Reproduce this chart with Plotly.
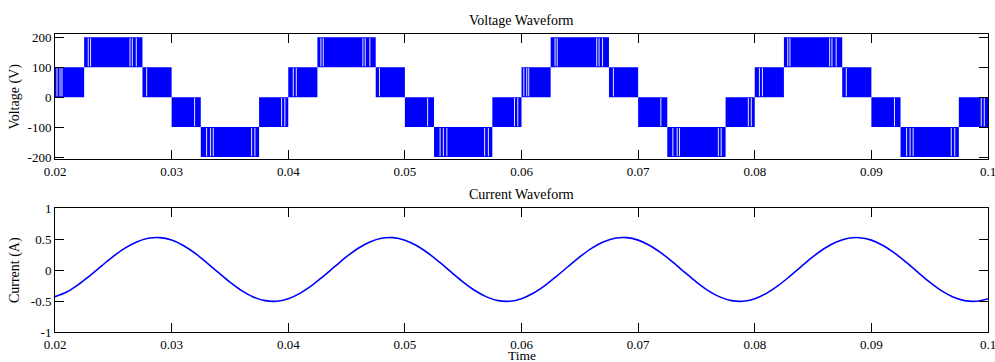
import plotly.graph_objects as go

# ---------------- Data ----------------
# Voltage: multilevel PWM, each band switches rapidly between a low and a high level
band_start = [0.0200, 0.0225, 0.0275, 0.0300, 0.0325, 0.0375,
              0.0400, 0.0425, 0.0475, 0.0500, 0.0525, 0.0575,
              0.0600, 0.0625, 0.0675, 0.0700, 0.0725, 0.0775,
              0.0800, 0.0825, 0.0875, 0.0900, 0.0925, 0.0975]
band_end = [0.0225, 0.0275, 0.0300, 0.0325, 0.0375, 0.0400,
            0.0425, 0.0475, 0.0500, 0.0525, 0.0575, 0.0600,
            0.0625, 0.0675, 0.0700, 0.0725, 0.0775, 0.0800,
            0.0825, 0.0875, 0.0900, 0.0925, 0.0975, 0.1000]
band_low = [0, 100, 0, -100, -200, -100,
            0, 100, 0, -100, -200, -100,
            0, 100, 0, -100, -200, -100,
            0, 100, 0, -100, -200, -100]
band_high = [100, 200, 100, 0, -100, 0,
             100, 200, 100, 0, -100, 0,
             100, 200, 100, 0, -100, 0,
             100, 200, 100, 0, -100, 0]

# Instants where the PWM stays at one level long enough to leave a visible gap
pwm_gap_times = [0.02017, 0.02043, 0.02060, 0.02285, 0.02305, 0.02643, 0.02663, 0.02697,
                 0.02786, 0.03197, 0.03300, 0.03334, 0.03357, 0.03686, 0.03714, 0.03943, 0.03971,
                 0.04043, 0.04069, 0.04280, 0.04300, 0.04640, 0.04660, 0.04700,
                 0.04782, 0.05195, 0.05302, 0.05330, 0.05360, 0.05684, 0.05716, 0.05940, 0.05968,
                 0.06020, 0.06045, 0.06062, 0.06288, 0.06306, 0.06645, 0.06665, 0.06695,
                 0.06788, 0.07195, 0.07298, 0.07335, 0.07355, 0.07688, 0.07712, 0.07945, 0.07970,
                 0.08040, 0.08066, 0.08283, 0.08302, 0.08642, 0.08662, 0.08698,
                 0.08785, 0.09198, 0.09302, 0.09332, 0.09358, 0.09685, 0.09715, 0.09942, 0.09968]

# Current: sampled every 1 ms from 20 ms to 100 ms
current_time_ms = [20, 21, 22, 23, 24, 25, 26, 27, 28, 29,
                   30, 31, 32, 33, 34, 35, 36, 37, 38, 39,
                   40, 41, 42, 43, 44, 45, 46, 47, 48, 49,
                   50, 51, 52, 53, 54, 55, 56, 57, 58, 59,
                   60, 61, 62, 63, 64, 65, 66, 67, 68, 69,
                   70, 71, 72, 73, 74, 75, 76, 77, 78, 79,
                   80, 81, 82, 83, 84, 85, 86, 87, 88, 89,
                   90, 91, 92, 93, 94, 95, 96, 97, 98, 99,
                   100]
current_vals = [-0.430, -0.355, -0.235, -0.088, 0.068, 0.222, 0.354, 0.453, 0.513, 0.524,
                0.484, 0.397, 0.272, 0.121, -0.039, -0.196, -0.332, -0.434, -0.494, -0.504,
                -0.463, -0.376, -0.252, -0.101, 0.058, 0.215, 0.352, 0.454, 0.514, 0.523,
                0.482, 0.395, 0.271, 0.122, -0.038, -0.195, -0.331, -0.433, -0.493, -0.503,
                -0.462, -0.375, -0.251, -0.102, 0.057, 0.214, 0.351, 0.453, 0.513, 0.523,
                0.483, 0.396, 0.272, 0.123, -0.037, -0.194, -0.331, -0.433, -0.494, -0.504,
                -0.463, -0.376, -0.252, -0.102, 0.058, 0.215, 0.351, 0.452, 0.512, 0.522,
                0.483, 0.396, 0.273, 0.122, -0.038, -0.195, -0.332, -0.434, -0.493, -0.503,
                -0.463]

x_ticks = [0.02, 0.03, 0.04, 0.05, 0.06, 0.07, 0.08, 0.09, 0.1]
x_tick_text = ["0.02", "0.03", "0.04", "0.05", "0.06", "0.07", "0.08", "0.09", "0.1"]
v_ticks = [-200, -100, 0, 100, 200]
v_tick_text = ["-200", "-100", "0", "100", "200"]
i_ticks = [-1, -0.5, 0, 0.5, 1]
i_tick_text = ["-1", "-0.5", "0", "0.5", "1"]

# ---------------- Figure ----------------
BLUE = "rgb(0,0,255)"
FONT = "Liberation Serif, Times New Roman, serif"

fig = go.Figure()

centers = [(s + e) / 2 for s, e in zip(band_start, band_end)]
widths = [e - s for s, e in zip(band_start, band_end)]
heights = [h - l for l, h in zip(band_low, band_high)]

fig.add_trace(go.Bar(x=centers, y=heights, base=band_low, width=widths,
                     marker=dict(color=BLUE, line=dict(width=0)),
                     xaxis="x", yaxis="y", showlegend=False, hoverinfo="skip"))

# white gaps inside the bands
gx, gy = [], []
for t in pwm_gap_times:
    for s, e, lo, hi in zip(band_start, band_end, band_low, band_high):
        if s <= t < e:
            gx += [t, t, None]
            gy += [lo + 3, hi - 3, None]
            break
fig.add_trace(go.Scatter(x=gx, y=gy, mode="lines", line=dict(color="white", width=1),
                         opacity=0.9, xaxis="x", yaxis="y", showlegend=False, hoverinfo="skip"))

fig.add_trace(go.Scatter(x=[t / 1000 for t in current_time_ms], y=current_vals,
                         mode="lines", line=dict(color=BLUE, width=1.6, shape="spline", smoothing=1.0),
                         xaxis="x2", yaxis="y2", showlegend=False))

axis_common = dict(showline=True, linecolor="black", linewidth=1, mirror="allticks",
                   ticks="inside", ticklen=9, tickwidth=1, tickcolor="black",
                   showgrid=False, zeroline=False, ticklabeloverflow="allow", automargin=False,
                   tickfont=dict(family=FONT, size=13, color="black"))

XR = [0.02, 0.1]

fig.update_layout(
    width=995, height=362,
    margin=dict(l=55, r=6.5, t=33.5, b=30.3, autoexpand=False),
    paper_bgcolor="white", plot_bgcolor="white",
    font=dict(family=FONT, size=13, color="black"),
    xaxis=dict(domain=[0, 1], range=XR, tickvals=x_ticks, ticktext=x_tick_text,
               anchor="y", **axis_common),
    yaxis=dict(domain=[0.58, 1], range=[-207, 211], tickvals=v_ticks, ticktext=v_tick_text,
               anchor="x", **axis_common),
    xaxis2=dict(domain=[0, 1], range=XR, tickvals=x_ticks, ticktext=x_tick_text,
                anchor="y2", **axis_common),
    yaxis2=dict(domain=[0, 0.4158], range=[-1, 1], tickvals=i_ticks, ticktext=i_tick_text,
                anchor="x2", **axis_common),
    annotations=[
        dict(text="Voltage Waveform", x=0.5, y=1.0, xref="paper", yref="paper",
             xanchor="center", yanchor="bottom", yshift=4, showarrow=False,
             font=dict(family=FONT, size=14, color="black")),
        dict(text="Current Waveform", x=0.5, y=0.4158, xref="paper", yref="paper",
             xanchor="center", yanchor="bottom", yshift=4, showarrow=False,
             font=dict(family=FONT, size=14, color="black")),
        dict(text="Voltage (V)", x=(15 - 55) / 933.5, y=(0.58 + 1) / 2, xref="paper", yref="paper",
             xanchor="center", yanchor="middle", textangle=-90, showarrow=False,
             font=dict(family=FONT, size=14, color="black")),
        dict(text="Current (A)", x=(15 - 55) / 933.5, y=0.4158 / 2, xref="paper", yref="paper",
             xanchor="center", yanchor="middle", textangle=-90, showarrow=False,
             font=dict(family=FONT, size=14, color="black")),
        dict(text="Time", x=0.5, y=(331.7 - 355) / 298.2, xref="paper", yref="paper",
             xanchor="center", yanchor="middle", showarrow=False,
             font=dict(family=FONT, size=13.5, color="black")),
    ],
)

fig.write_html("out.html")
